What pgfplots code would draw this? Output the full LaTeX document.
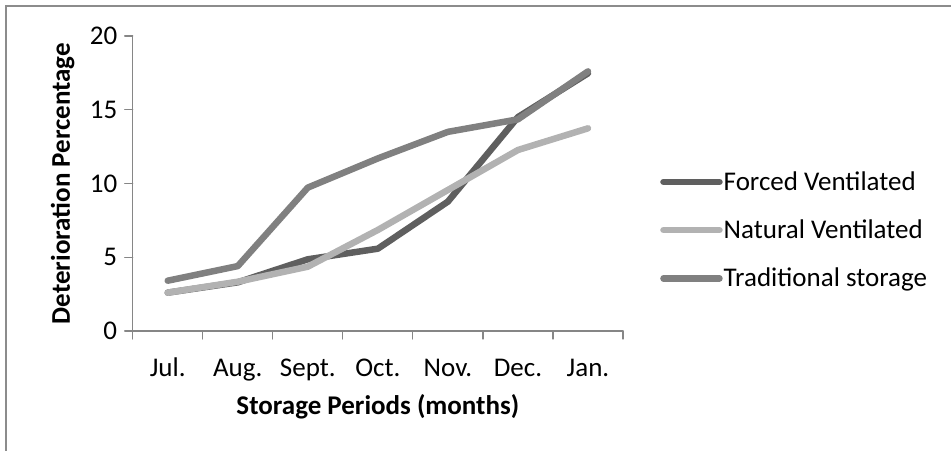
\documentclass[border=0pt]{standalone}
\usepackage{pgfplots}
\pgfplotsset{compat=1.18}
\usepackage{fontspec}
\setmainfont{Carlito}
\definecolor{forced}{HTML}{5F5F5F}
\definecolor{natural}{HTML}{B2B2B2}
\definecolor{trad}{HTML}{808080}
\definecolor{axgray}{HTML}{868686}
\definecolor{frame}{HTML}{8C8C8C}
\begin{document}
\begin{tikzpicture}[x=1bp,y=1bp]
\useasboundingbox (0,0) rectangle (951,451);
\draw[frame, line width=2.2bp] (6,-10) -- (6,445) -- (960,445);
\begin{axis}[
  at={(132.7bp,120bp)}, anchor=south west,
  scale only axis, width=490.3bp, height=295bp,
  xmin=-0.5, xmax=6.5, ymin=0, ymax=20,
  axis lines*=left,
  axis line style={axgray, line width=1.2bp, -},
  every tick/.style={axgray, line width=1.2bp},
  tick align=outside, major tick length=8bp,
  xtick={-0.5,0.5,...,6.5}, xticklabels={},
  extra x ticks={0,1,2,3,4,5,6},
  extra x tick labels={Jul.,Aug.,Sept.,Oct.,Nov.,Dec.,Jan.},
  extra x tick style={major tick length=0pt, tick style={draw=none},
    xticklabel style={anchor=base, yshift=-46bp}},
  ytick={0,5,10,15,20},
  /pgf/number format/assume math mode=true,
  tick label style={font=\fontsize{27bp}{32bp}\selectfont, text=black},
  yticklabel style={xshift=-4bp},
  xlabel={\textbf{Storage Periods (months)}},
  ylabel={\textbf{Deterioration Percentage}},
  label style={font=\fontsize{27bp}{32bp}\selectfont},
  xlabel style={at={(axis description cs:0.5,0)}, anchor=center, yshift=-76bp},
  ylabel style={at={(axis description cs:0,0.5)}, anchor=center, yshift=70bp},
  legend style={at={(1.0755,0.342)}, anchor=west, draw=none, fill=none,
    inner sep=0pt, font=\fontsize{27bp}{32bp}\selectfont, row sep=24bp,
    nodes={inner xsep=1bp},
    /tikz/every even column/.append style={column sep=0bp}},
  legend cell align=left,
  legend image code/.code={\draw[#1, line cap=round] (0bp,0bp) -- (56bp,0bp);},
  line join=round, line cap=round,
  clip=false,
]
\addplot[forced, line width=6.5bp] coordinates {(0,2.6) (1,3.3) (2,4.86) (3,5.58) (4,8.77) (5,14.5) (6,17.47)};
\addlegendentry{Forced Ventilated}
\addplot[natural, line width=6.5bp] coordinates {(0,2.6) (1,3.34) (2,4.36) (3,6.85) (4,9.56) (5,12.27) (6,13.74)};
\addlegendentry{Natural Ventilated}
\addplot[trad, line width=6.5bp] coordinates {(0,3.41) (1,4.4) (2,9.72) (3,11.7) (4,13.5) (5,14.35) (6,17.6)};
\addlegendentry{Traditional storage}
\end{axis}
\end{tikzpicture}
\end{document}
